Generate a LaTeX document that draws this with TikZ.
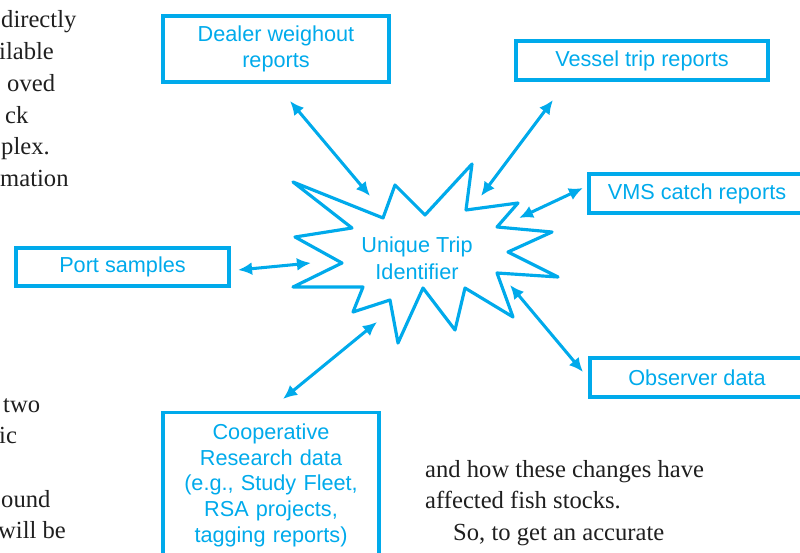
\documentclass[tikz,border=0pt]{standalone}
\usepackage{fontspec}
\setmainfont{Liberation Serif}
\setsansfont{Liberation Sans}
\usetikzlibrary{arrows.meta}
\definecolor{tripblue}{RGB}{0,170,235}

\begin{document}
\begin{tikzpicture}[x=0.3mm, y=0.3mm]
\tikzstyle{every node}+=[inner sep=0pt]
\tikzstyle{srcbox}=[draw=tripblue, line width=2.8pt, text=tripblue, font=\sffamily\fontsize{18.5}{22}\selectfont, align=center]
\tikzstyle{link}=[tripblue, line width=2.6pt, {Latex[length=12pt,width=11pt]}-{Latex[length=12pt,width=11pt]}]
\tikzstyle{pagetext}=[anchor=base west, text=black!88, font=\fontsize{21}{27}\selectfont]
\useasboundingbox (0,0) rectangle (800,-553);
\clip (0,0) rectangle (800,-553);
% text of the page round the figure
\node [pagetext] (l1) at (1,-28) {directly};
\node [pagetext] (l2) at (-1,-60) {ilable};
\node [pagetext] (l3) at (7,-92) {oved};
\node [pagetext] (l4) at (5,-124) {ck};
\node [pagetext] (l5) at (1,-155) {plex.};
\node [pagetext] (l6) at (0,-187) {mation};
\node [pagetext] (l7) at (3,-412) {two};
\node [pagetext] (l8) at (-1,-443) {ic};
\node [pagetext] (l9) at (1,-507) {ound};
\node [pagetext] (l10) at (-2,-538) {will be};
\node [pagetext] (r1) at (425,-477) {and how these changes have};
\node [pagetext] (r2) at (425,-508) {affected fish stocks.};
\node [pagetext] (r3) at (453,-540) {So, to get an accurate};
% the burst
\draw [tripblue, line width=2.7pt, line join=round] (293,-182) -- (383,-218) -- (395,-185) -- (425,-215) -- (472,-164) -- (466,-210) -- (518,-203) -- (497,-227) -- (552,-232) -- (508,-252) -- (558,-277) -- (497,-273) -- (513,-317) -- (465,-288) -- (455,-330) -- (423,-288) -- (398,-343) -- (390,-300) -- (353,-312) -- (363,-287) -- (293,-287) -- (342,-263) -- (295,-237) -- (352,-228) -- cycle;
\node [text=tripblue, font=\sffamily\fontsize{18.5}{23}\selectfont, align=center] (uti) at (417,-258) {Unique Trip\\Identifier};
% data sources
\node [srcbox, minimum width=67.8mm, minimum height=19.8mm] (dealer) at (276,-49) {Dealer weighout\\reports};
\node [srcbox, minimum width=75.6mm, minimum height=11.7mm] (vessel) at (642,-60.5) {Vessel trip reports};
\node [srcbox, minimum width=64.8mm, minimum height=11.7mm] (vms) at (697,-193.5) {VMS catch reports};
\node [srcbox, minimum width=63.9mm, minimum height=11.4mm] (port) at (122.5,-267) {Port samples};
\node [srcbox, minimum width=64.2mm, minimum height=11.7mm] (observer) at (697,-377.5) {Observer data};
\node [srcbox, anchor=north, text width=64.8mm, inner ysep=3.3mm] (coop) at (271,-411) {Cooperative\\Research data\\(e.g., Study Fleet,\\RSA projects,\\tagging reports)};
% arrow ends
\coordinate (dealer end) at (290,-101);
\coordinate (dealer tip) at (370,-196);
\coordinate (vessel end) at (553,-100);
\coordinate (vessel tip) at (481,-196);
\coordinate (vms end) at (583,-188);
\coordinate (vms tip) at (519,-218);
\coordinate (port end) at (238,-270);
\coordinate (port tip) at (311,-263);
\coordinate (observer end) at (583,-372);
\coordinate (observer tip) at (510,-285);
\coordinate (coop end) at (283,-399);
\coordinate (coop tip) at (377,-322);
\draw [link] (dealer end) -- (dealer tip);
\draw [link] (vessel end) -- (vessel tip);
\draw [link] (vms end) -- (vms tip);
\draw [link] (port end) -- (port tip);
\draw [link] (observer end) -- (observer tip);
\draw [link] (coop end) -- (coop tip);
\end{tikzpicture}
\end{document}
